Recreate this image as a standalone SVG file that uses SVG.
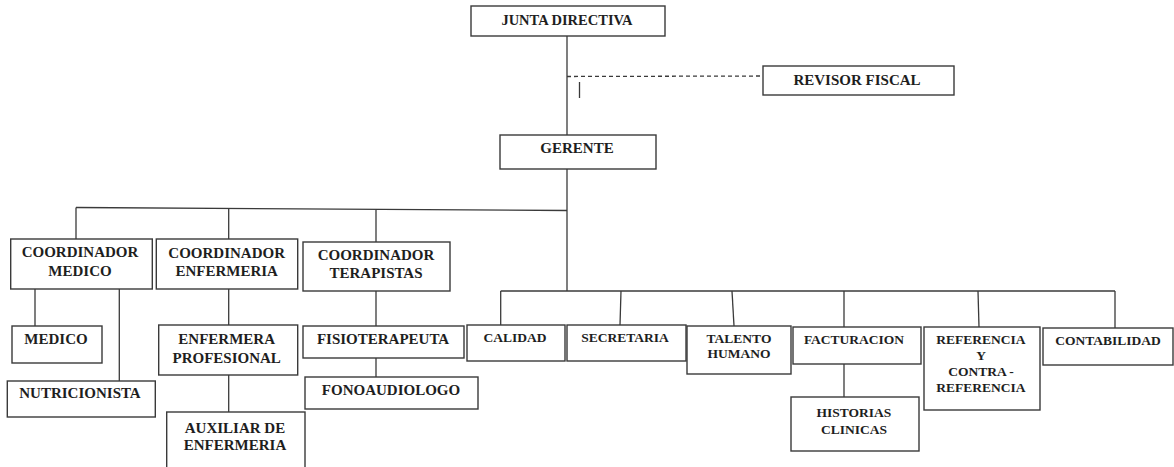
<svg xmlns="http://www.w3.org/2000/svg" width="1174" height="467" viewBox="0 0 1174 467">
<style>
.box{fill:#fff;stroke:#3a3a3a;stroke-width:1.4}
.t{font-family:"Liberation Serif","Times New Roman",serif;font-weight:bold;font-size:15px;fill:#1e1e1e;text-anchor:middle}
.s{font-size:13.5px}
.c{fill:none;stroke:#3a3a3a;stroke-width:1.3}
.d{stroke-dasharray:4 3}
</style>
<rect width="1174" height="467" fill="#fff"/>
<g id="connectors">
<line class="c" x1="567" y1="36" x2="567" y2="135"/>
<line class="c d" x1="567" y1="76.5" x2="763" y2="76"/>
<line class="c" x1="579.5" y1="82" x2="579.5" y2="98"/>
<line class="c" x1="567" y1="169" x2="567" y2="291"/>
<line class="c" x1="76" y1="207.5" x2="567" y2="210.5"/>
<line class="c" x1="76" y1="207.5" x2="76" y2="239"/>
<line class="c" x1="228.7" y1="208.5" x2="228.7" y2="239"/>
<line class="c" x1="376" y1="209.5" x2="376" y2="242"/>
<line class="c" x1="35" y1="289" x2="35" y2="326"/>
<line class="c" x1="119.3" y1="289" x2="119.3" y2="381"/>
<line class="c" x1="228.7" y1="289" x2="228.7" y2="325"/>
<line class="c" x1="228.7" y1="375" x2="228.7" y2="412"/>
<line class="c" x1="376" y1="291" x2="376" y2="326"/>
<line class="c" x1="376" y1="358" x2="376" y2="377"/>
<line class="c" x1="500.7" y1="291" x2="1115" y2="291"/>
<line class="c" x1="500.7" y1="291" x2="500.7" y2="325"/>
<line class="c" x1="621" y1="291" x2="620" y2="325"/>
<line class="c" x1="732" y1="291" x2="734" y2="326"/>
<line class="c" x1="844" y1="291" x2="844" y2="327"/>
<line class="c" x1="978" y1="291" x2="979" y2="327"/>
<line class="c" x1="1115" y1="291" x2="1115" y2="328"/>
<line class="c" x1="844" y1="364" x2="844" y2="397"/>
</g>
<g id="junta"><rect class="box" x="471" y="6" width="194" height="30"/><text class="t" x="567" y="24.5" style="font-size:14.5px">JUNTA DIRECTIVA</text></g>
<g id="revisor"><rect class="box" x="763" y="66" width="191" height="29"/><text class="t" x="857" y="85">REVISOR FISCAL</text></g>
<g id="gerente"><rect class="box" x="500" y="135" width="156" height="34"/><text class="t" x="577" y="153">GERENTE</text></g>
<g id="coord-medico"><rect class="box" x="10.7" y="239" width="141.6" height="50"/><text class="t" x="80" y="257">COORDINADOR</text><text class="t" x="80" y="276">MEDICO</text></g>
<g id="coord-enfermeria"><rect class="box" x="156.3" y="239" width="141.4" height="50"/><text class="t" x="226.7" y="258">COORDINADOR</text><text class="t" x="226.7" y="276">ENFERMERIA</text></g>
<g id="coord-terapistas"><rect class="box" x="303" y="242" width="147" height="49"/><text class="t" x="376" y="260">COORDINADOR</text><text class="t" x="376" y="278">TERAPISTAS</text></g>
<g id="medico"><rect class="box" x="12" y="326" width="90" height="37"/><text class="t" x="56" y="344">MEDICO</text></g>
<g id="nutricionista"><rect class="box" x="7.3" y="381" width="148" height="36"/><text class="t" x="80" y="398">NUTRICIONISTA</text></g>
<g id="enfermera-profesional"><rect class="box" x="158.7" y="325" width="139" height="50"/><text class="t" x="226.7" y="344">ENFERMERA</text><text class="t" x="226.7" y="363">PROFESIONAL</text></g>
<g id="auxiliar"><rect class="box" x="166.7" y="412" width="138.3" height="62"/><text class="t" x="235" y="433">AUXILIAR DE</text><text class="t" x="235" y="450">ENFERMERIA</text></g>
<g id="fisioterapeuta"><rect class="box" x="303" y="326" width="161" height="32"/><text class="t" x="383" y="344">FISIOTERAPEUTA</text></g>
<g id="fonoaudiologo"><rect class="box" x="305" y="377" width="173" height="32"/><text class="t" x="391" y="395">FONOAUDIOLOGO</text></g>
<g id="calidad"><rect class="box" x="467" y="325" width="98" height="36"/><text class="t s" x="515" y="342">CALIDAD</text></g>
<g id="secretaria"><rect class="box" x="567" y="325" width="119" height="36"/><text class="t s" x="625" y="342">SECRETARIA</text></g>
<g id="talento-humano"><rect class="box" x="687" y="326" width="104" height="48"/><text class="t s" x="739" y="343">TALENTO</text><text class="t s" x="739" y="358">HUMANO</text></g>
<g id="facturacion"><rect class="box" x="793" y="327" width="128" height="37"/><text class="t s" x="854" y="344">FACTURACION</text></g>
<g id="historias-clinicas"><rect class="box" x="791" y="397" width="128" height="54"/><text class="t s" x="854" y="417">HISTORIAS</text><text class="t s" x="854" y="434">CLINICAS</text></g>
<g id="referencia"><rect class="box" x="924" y="327" width="116" height="83"/><text class="t s" x="981" y="344">REFERENCIA</text><text class="t s" x="981" y="360">Y</text><text class="t s" x="981" y="376">CONTRA -</text><text class="t s" x="981" y="392">REFERENCIA</text></g>
<g id="contabilidad"><rect class="box" x="1043" y="328" width="130" height="37"/><text class="t s" x="1108" y="345">CONTABILIDAD</text></g>
</svg>
